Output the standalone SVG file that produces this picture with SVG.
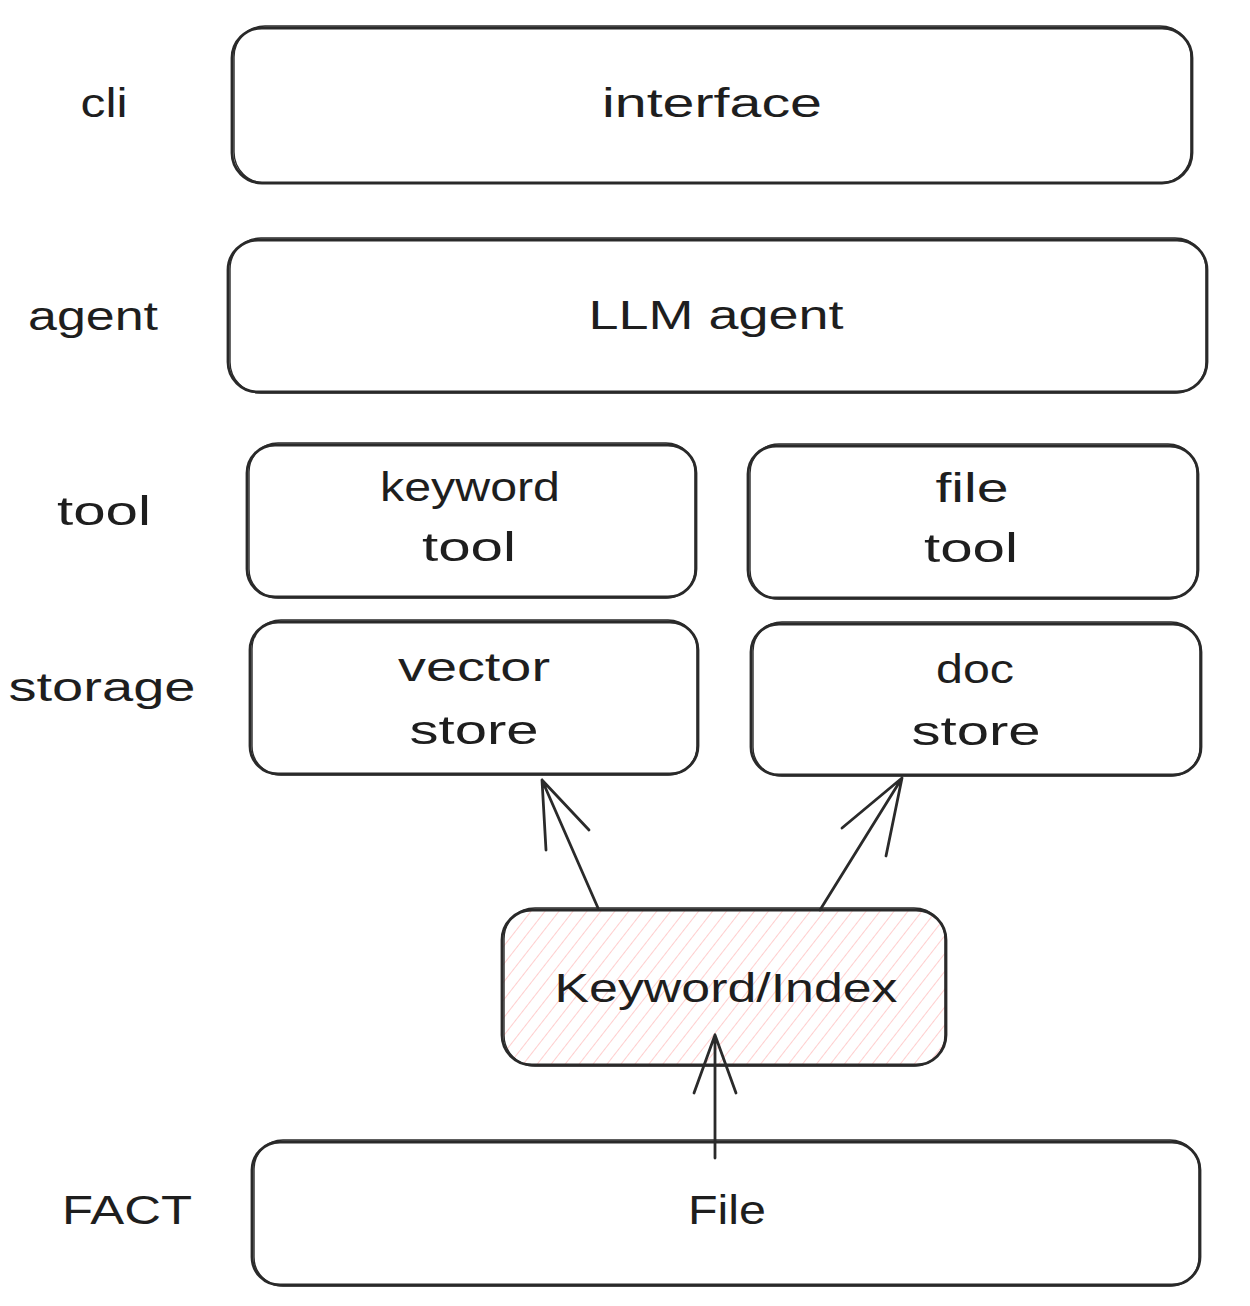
<svg xmlns="http://www.w3.org/2000/svg" width="1250" height="1306" viewBox="0 0 1250 1306">
<defs>
<pattern id="hatch" width="11" height="11" patternUnits="userSpaceOnUse" patternTransform="rotate(38)">
<line x1="0" y1="0" x2="0" y2="11" stroke="#ffc9c9" stroke-width="1.8"/>
</pattern>
<style>
.box{fill:none;stroke:#2a2a2a;stroke-width:2.8}
.box2{fill:none;stroke:#2a2a2a;stroke-width:1.4}
.t{font-family:"Liberation Sans","DejaVu Sans",sans-serif;font-size:40px;fill:#1e1e1e;text-anchor:middle;dominant-baseline:central}
.c{fill:none;stroke:#2a2a2a;stroke-width:2.8;stroke-linecap:round}
</style>
</defs>
<rect width="1250" height="1306" fill="#fff"/>
<g id="labels">
<text class="t" x="104" y="103" textLength="47" lengthAdjust="spacingAndGlyphs">cli</text>
<text class="t" x="93" y="316" textLength="130" lengthAdjust="spacingAndGlyphs">agent</text>
<text class="t" x="104" y="511" textLength="94" lengthAdjust="spacingAndGlyphs">tool</text>
<text class="t" x="102" y="687" textLength="187" lengthAdjust="spacingAndGlyphs">storage</text>
<text class="t" x="127" y="1210" textLength="130" lengthAdjust="spacingAndGlyphs">FACT</text>
</g>
<g id="interface">
<rect class="box" x="232" y="28" width="960" height="155" rx="30"/>
<rect class="box2" x="234" y="26" width="957" height="157" rx="31"/>
<text class="t" x="712" y="103" textLength="220" lengthAdjust="spacingAndGlyphs">interface</text>
</g>
<g id="llm-agent">
<rect class="box" x="228" y="240" width="979" height="152" rx="30"/>
<rect class="box2" x="230" y="238" width="976" height="155" rx="31"/>
<text class="t" x="716" y="315" textLength="255" lengthAdjust="spacingAndGlyphs">LLM agent</text>
</g>
<g id="keyword-tool">
<rect class="box" x="247" y="445" width="449" height="152" rx="28"/>
<rect class="box2" x="249" y="443" width="446" height="155" rx="29"/>
<text class="t" x="470" y="487" textLength="180" lengthAdjust="spacingAndGlyphs">keyword</text>
<text class="t" x="469" y="547" textLength="94" lengthAdjust="spacingAndGlyphs">tool</text>
</g>
<g id="file-tool">
<rect class="box" x="748" y="446" width="450" height="152" rx="28"/>
<rect class="box2" x="750" y="444" width="447" height="155" rx="29"/>
<text class="t" x="972" y="488" textLength="73" lengthAdjust="spacingAndGlyphs">file</text>
<text class="t" x="971" y="548" textLength="94" lengthAdjust="spacingAndGlyphs">tool</text>
</g>
<g id="vector-store">
<rect class="box" x="250" y="622" width="448" height="152" rx="28"/>
<rect class="box2" x="252" y="620" width="445" height="155" rx="29"/>
<text class="t" x="474" y="667" textLength="152" lengthAdjust="spacingAndGlyphs">vector</text>
<text class="t" x="474" y="730" textLength="129" lengthAdjust="spacingAndGlyphs">store</text>
</g>
<g id="doc-store">
<rect class="box" x="751" y="624" width="450" height="151" rx="28"/>
<rect class="box2" x="753" y="622" width="447" height="154" rx="29"/>
<text class="t" x="975" y="669" textLength="78" lengthAdjust="spacingAndGlyphs">doc</text>
<text class="t" x="976" y="731" textLength="129" lengthAdjust="spacingAndGlyphs">store</text>
</g>
<g id="keyword-index">
<rect x="502" y="910" width="444" height="155" rx="30" fill="url(#hatch)"/>
<rect class="box" x="502" y="910" width="444" height="155" rx="30"/>
<rect class="box2" x="504" y="908" width="441" height="158" rx="31"/>
<text class="t" x="726" y="988" textLength="343" lengthAdjust="spacingAndGlyphs">Keyword/Index</text>
</g>
<g id="file">
<rect class="box" x="252" y="1142" width="948" height="143" rx="28"/>
<rect class="box2" x="254" y="1140" width="945" height="146" rx="29"/>
<text class="t" x="727" y="1210" textLength="78" lengthAdjust="spacingAndGlyphs">File</text>
</g>
<g id="connectors">
<path class="c" d="M598 908 L542 780 M542 780 L546 850 M542 780 L589 830"/>
<path class="c" d="M820 910 L902 778 M902 778 L886 856 M902 778 L842 828"/>
<path class="c" d="M715 1158 L715 1035 M715 1035 L694 1093 M715 1035 L736 1093"/>
</g>
</svg>
